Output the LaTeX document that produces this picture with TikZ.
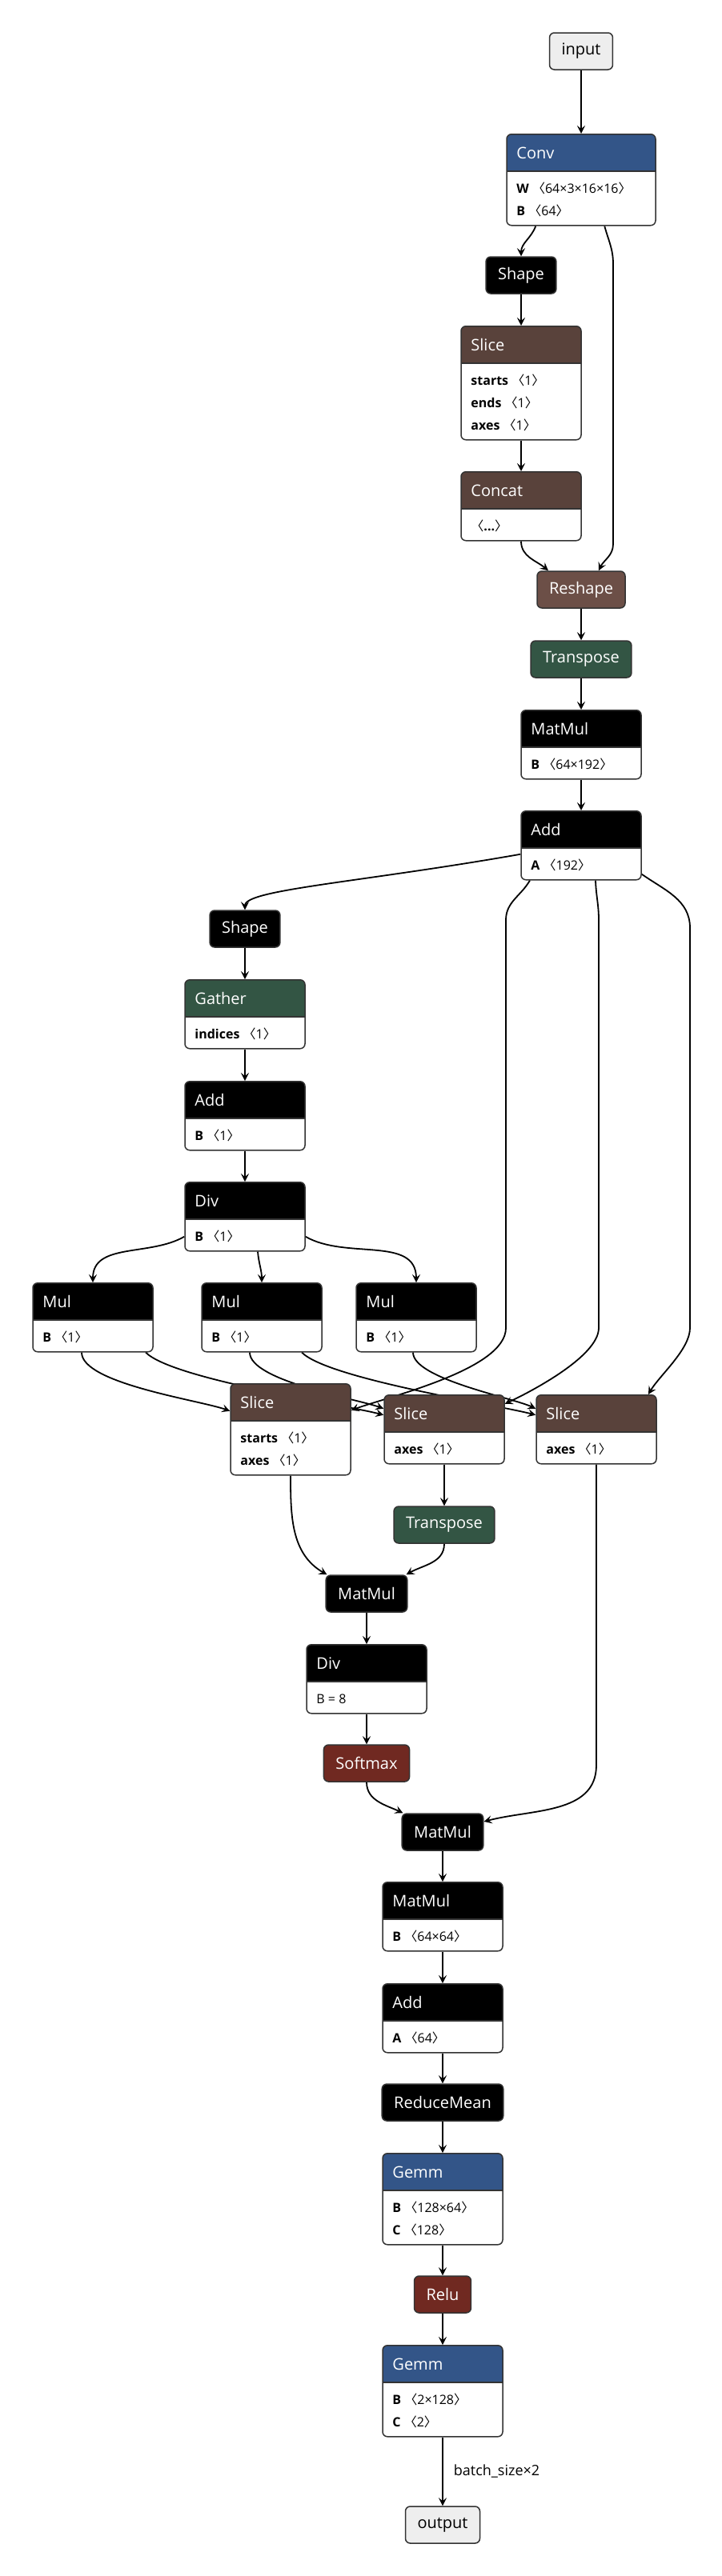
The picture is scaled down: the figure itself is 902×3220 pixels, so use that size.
\documentclass[tikz,border=0pt]{standalone}
\usepackage{fontspec}
\setmainfont{Open Sans}
\newfontfamily\cjkfont{Noto Sans CJK SC}
\usetikzlibrary{arrows.meta,backgrounds}
\definecolor{frame}{HTML}{333333}
\definecolor{layer}{HTML}{335588}
\definecolor{activ}{HTML}{702921}
\definecolor{transf}{HTML}{335544}
\definecolor{shapec}{HTML}{6C4F47}
\definecolor{tensor}{HTML}{59423B}
\definecolor{ioback}{HTML}{EEEEEE}
\newcommand{\shp}[1]{{\cjkfont 〈}#1{\cjkfont 〉}}

\begin{document}
\begin{tikzpicture}[
  x=1pt, y=-1pt,
  font=\fontsize{16}{19}\selectfont,
  hdr/.style={font=\fontsize{20}{24}\selectfont},
  op/.style={draw=frame, line width=1.5pt, rounded corners=6pt, fill=white,
             anchor=north, minimum width=150pt, minimum height=86pt, inner sep=0pt,
             path picture={
               \fill[#1, sharp corners] (path picture bounding box.north west)
                 rectangle ([yshift=-46pt]path picture bounding box.north east);
               \draw[frame, line width=1.5pt, sharp corners]
                 ([yshift=-46pt]path picture bounding box.north west)
                 -- ([yshift=-46pt]path picture bounding box.north east);}},
  rows2/.style={minimum height=114pt},
  rows3/.style={minimum height=142pt},
  head/.style={label={[hdr, text=white, anchor=base west, inner sep=0pt,
                       xshift=13pt, yshift=-31pt]north west:#1}},
  rowa/.style={label={[anchor=base west, inner sep=0pt, xshift=13pt, yshift=-74pt]north west:#1}},
  rowb/.style={label={[anchor=base west, inner sep=0pt, xshift=13pt, yshift=-102pt]north west:#1}},
  rowc/.style={label={[anchor=base west, inner sep=0pt, xshift=13pt, yshift=-130pt]north west:#1}},
  sop/.style={draw=frame, line width=1.5pt, rounded corners=6pt, fill=#1, text=white,
              hdr, minimum height=46pt, inner xsep=15pt, inner ysep=0pt},
  io/.style={sop=ioback, text=black},
  flow/.style={-{Stealth[length=10pt, width=10pt, inset=4pt]}, line width=1.8pt},
  lbl/.style={right, inner sep=0pt, xshift=13pt, font=\fontsize{18}{21}\selectfont}
]
\useasboundingbox (0,0) rectangle (902,3220);

%% --- trunk: input to Add ---
\node[io] (inp) at (726,64) {input};
\node[op=layer, rows2, minimum width=186pt, head=Conv,
      rowa={\textbf{W} \shp{64×3×16×16}}, rowb={\textbf{B} \shp{64}}] (conv) at (726,167) {};
\node[sop=black] (shp) at (651,344) {Shape};
\node[op=tensor, rows3, head=Slice, rowa={\textbf{starts} \shp{1}},
      rowb={\textbf{ends} \shp{1}}, rowc={\textbf{axes} \shp{1}}] (slc) at (651,407) {};
\node[op=tensor, head=Concat, rowa={\shp{\textbf{...}}}] (cat) at (651,589) {};
\node[sop=shapec] (rsh) at (726,737) {Reshape};
\node[sop=transf] (trA) at (726,824) {Transpose};
\node[op=black, head=MatMul, rowa={\textbf{B} \shp{64×192}}] (mmA) at (726,887) {};
\node[op=black, head=Add, rowa={\textbf{A} \shp{192}}] (addA) at (726,1013) {};

%% --- left branch: shape arithmetic ---
\node[sop=black] (shpB) at (306,1161) {Shape};
\node[op=transf, head=Gather, rowa={\textbf{indices} \shp{1}}] (gat) at (306,1224) {};
\node[op=black, head=Add, rowa={\textbf{B} \shp{1}}] (addB) at (306,1351) {};
\node[op=black, head=Div, rowa={\textbf{B} \shp{1}}] (divA) at (306,1477) {};
\node[op=black, head=Mul, rowa={\textbf{B} \shp{1}}] (mulA) at (116,1603) {};
\node[op=black, head=Mul, rowa={\textbf{B} \shp{1}}] (mulB) at (327,1603) {};
\node[op=black, head=Mul, rowa={\textbf{B} \shp{1}}] (mulC) at (520,1603) {};

%% --- slices and attention ---
\node[op=tensor, rows2, head=Slice, rowa={\textbf{starts} \shp{1}},
      rowb={\textbf{axes} \shp{1}}] (slcA) at (363,1729) {};
\node[op=tensor, head=Slice, rowa={\textbf{axes} \shp{1}}] (slcB) at (555,1743) {};
\node[op=tensor, head=Slice, rowa={\textbf{axes} \shp{1}}] (slcC) at (745,1743) {};
\node[sop=transf] (trB) at (555,1906) {Transpose};
\node[sop=black] (mmB) at (458,1992) {MatMul};
\node[op=black, head=Div, rowa={B = 8}] (divB) at (458,2055) {};
\node[sop=activ] (smax) at (458,2204) {Softmax};
\node[sop=black] (mmC) at (553,2290) {MatMul};

%% --- head ---
\node[op=black, head=MatMul, rowa={\textbf{B} \shp{64×64}}] (mmD) at (553,2352) {};
\node[op=black, head=Add, rowa={\textbf{A} \shp{64}}] (addC) at (553,2479) {};
\node[sop=black] (rmean) at (553,2628) {ReduceMean};
\node[op=layer, rows2, head=Gemm, rowa={\textbf{B} \shp{128×64}},
      rowb={\textbf{C} \shp{128}}] (gemmA) at (553,2691) {};
\node[sop=activ] (relu) at (553,2868) {Relu};
\node[op=layer, rows2, head=Gemm, rowa={\textbf{B} \shp{2×128}},
      rowb={\textbf{C} \shp{2}}] (gemmB) at (553,2931) {};
\node[io] (out) at (553,3156) {output};

%% --- connectors, behind the nodes ---
\begin{scope}[on background layer]
\fill[white] (0,0) rectangle (902,3220);
\draw[flow] (inp) -- (conv);
\draw[flow] ([xshift=37pt]conv.south west) to[out=-110,in=90] (shp);
\draw[flow] ([xshift=123pt]conv.south west) to[out=-75,in=90] (766,330)
  -- (766,680) to[out=-90,in=65] ([xshift=22pt]rsh.north);
\draw[flow] (shp) -- (slc);
\draw[flow] (slc) -- (cat);
\draw[flow] (cat) to[out=-90,in=140] ([xshift=-41pt]rsh.north);
\draw[flow] (rsh) -- (trA);
\draw[flow] (trA) -- (mmA);
\draw[flow] (mmA) -- (addA);

\draw[flow] ([yshift=-11pt]addA.west) .. controls (450,1103) and (306,1112) .. (shpB);
\draw[flow] (shpB) -- (gat);
\draw[flow] (gat) -- (addB);
\draw[flow] (addB) -- (divA);
\draw[flow] ([yshift=-25pt]divA.west) to[out=210,in=90] (mulA);
\draw[flow] ([xshift=16pt]divA.south) to[out=-85,in=90] (mulB);
\draw[flow] ([yshift=-25pt]divA.east) to[out=-30,in=90] (mulC);

\draw[flow] ([xshift=-14pt]mulA.south) to[out=-90,in=160,looseness=0.5] ([yshift=23pt]slcA.west);
\draw[flow] ([xshift=66pt]mulA.south) to[out=-45,in=165,looseness=0.4] ([yshift=18pt]slcB.west);
\draw[flow] ([xshift=-15pt]mulB.south) to[out=-90,in=160,looseness=0.5] ([yshift=26pt]slcB.west);
\draw[flow] ([xshift=50pt]mulB.south) to[out=-45,in=165,looseness=0.4] ([yshift=18pt]slcC.west);
\draw[flow] ([xshift=-4pt]mulC.south) to[out=-90,in=155,looseness=0.5] ([yshift=26pt]slcC.west);

\draw[flow] ([xshift=-64pt]addA.south) to[out=-120,in=90] (632,1150)
  -- (632,1660) to[out=-90,in=20,looseness=0.6] ([yshift=24pt]slcA.east);
\draw[flow] ([xshift=18pt]addA.south) to[out=-88,in=90] (748,1150)
  -- (748,1660) to[out=-90,in=25,looseness=0.6] ([yshift=32pt]slcB.east);
\draw[flow] ([yshift=-36pt]addA.east) to[out=-35,in=90] (862,1160)
  -- (862,1660) to[out=-90,in=60,looseness=0.7] ([xshift=65pt]slcC.north);

\draw[flow] (slcA) to[out=-90,in=150] ([xshift=2pt]mmB.north west);
\draw[flow] (slcB) -- (trB);
\draw[flow] (trB) to[out=-90,in=30] ([xshift=-2pt]mmB.north east);
\draw[flow] (mmB) -- (divB);
\draw[flow] (divB) -- (smax);
\draw[flow] (smax) to[out=-90,in=155] ([xshift=2pt]mmC.north west);
\draw[flow] (slcC.south) -- ++(0,376) to[out=-90,in=15] ([yshift=13pt]mmC.east);

\draw[flow] (mmC) -- (mmD);
\draw[flow] (mmD) -- (addC);
\draw[flow] (addC) -- (rmean);
\draw[flow] (rmean) -- (gemmA);
\draw[flow] (gemmA) -- (relu);
\draw[flow] (relu) -- (gemmB);
\draw[flow] (gemmB) -- node[lbl] {batch\_size×2} (out);
\end{scope}
\end{tikzpicture}
\end{document}
